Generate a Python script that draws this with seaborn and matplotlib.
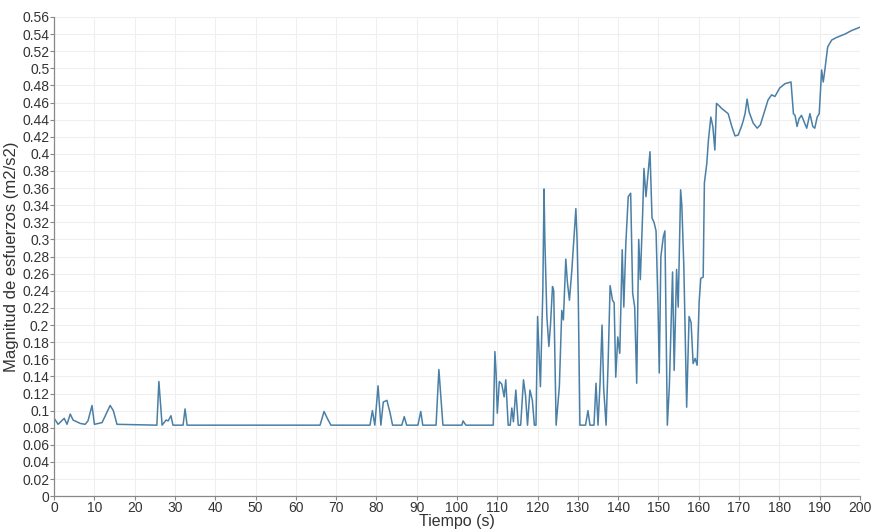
import matplotlib
matplotlib.use("Agg")
import matplotlib.pyplot as plt
import seaborn as sns
import pandas as pd
from matplotlib.ticker import MultipleLocator, FuncFormatter

tiempo = [0, 1, 2.5, 3.2, 4, 4.7, 5.6, 6.5, 7.7, 8.4, 9.4, 10, 11, 11.9, 12.7, 13.9, 14.7, 15.6,
          25.5, 26, 26.8, 27.8, 28.3, 29, 29.5, 32, 32.5, 33, 66, 67, 67.8, 68.7,
          78.4, 79, 79.6, 80.4, 81.1, 81.7, 82.6, 83.4, 84, 86.3, 86.9, 87.5, 90.3, 91, 91.5,
          94.8, 95.5, 96.5, 101.2, 101.5, 102.2, 109,
          109.4, 109.7, 110, 110.5, 111.1, 111.7, 112.1, 112.7, 113.2, 113.6, 114, 114.6, 115.2,
          115.8, 116.5, 117, 117.5, 118.1, 118.7, 119.2, 119.6, 120, 120.7, 121.3, 121.6, 121.8,
          122.3, 122.8, 123.2, 123.7, 124, 124.6, 125.4, 126, 126.4, 127, 127.4, 127.9, 128.5,
          129.5, 129.8, 130.1, 130.5, 131.9, 132.5, 133, 134, 134.5, 135, 135.5, 136, 136.4, 137,
          137.5, 138, 138.6, 139, 139.4, 139.9, 140.4, 141, 141.4, 141.9, 142.5, 143.1, 143.6,
          144.1, 144.6, 145.1, 145.5, 146.1, 146.4, 146.9, 147.9, 148.4, 148.9, 149.4, 149.9,
          150.2, 150.6, 151.2, 151.6, 152.2, 152.7, 153.5, 153.9, 154.5, 154.9, 155.5, 155.8,
          156.3, 157, 157.6, 158.1, 158.6, 159.1, 159.6, 160.1, 160.5, 161.1, 161.4, 162, 162.4,
          163, 163.5, 164, 164.4, 165.1, 165.7, 166.5, 167.3, 168.2, 169, 169.8, 170.6, 171,
          171.5, 172, 172.5, 173.5, 174.5, 175.3, 176.4, 177.2, 178.1, 178.9, 180.1, 181.4,
          182.9, 183.5, 183.9, 184.4, 184.9, 185.5, 186.1, 186.8, 187.6, 188.3, 188.8, 189.4,
          189.9, 190.5, 190.9, 191.3, 192, 193, 194.2, 196.3, 197.9, 200]

esfuerzo = [0.091, 0.084, 0.091, 0.084, 0.096, 0.089, 0.087, 0.085, 0.084, 0.088, 0.106, 0.084,
            0.085, 0.086, 0.094, 0.106, 0.100, 0.084,
            0.083, 0.134, 0.083, 0.089, 0.088, 0.094, 0.083, 0.083, 0.102, 0.083, 0.083, 0.099,
            0.091, 0.083,
            0.083, 0.100, 0.083, 0.129, 0.083, 0.110, 0.112, 0.097, 0.083, 0.083, 0.093, 0.083,
            0.083, 0.099, 0.083,
            0.083, 0.148, 0.083, 0.083, 0.088, 0.083, 0.083,
            0.169, 0.144, 0.097, 0.134, 0.131, 0.116, 0.136, 0.083, 0.083, 0.103, 0.087, 0.124,
            0.083, 0.083, 0.136, 0.118, 0.083, 0.124, 0.112, 0.083, 0.083, 0.210, 0.128, 0.240,
            0.359, 0.300, 0.210, 0.175, 0.200, 0.245, 0.240, 0.083, 0.128, 0.217, 0.206, 0.277,
            0.250, 0.229, 0.264, 0.336, 0.300, 0.233, 0.083, 0.083, 0.100, 0.083, 0.083, 0.132,
            0.083, 0.132, 0.200, 0.126, 0.083, 0.155, 0.246, 0.229, 0.226, 0.139, 0.186, 0.167,
            0.288, 0.221, 0.295, 0.350, 0.354, 0.237, 0.221, 0.132, 0.300, 0.253, 0.334, 0.383,
            0.350, 0.4025, 0.325, 0.320, 0.310, 0.220, 0.144, 0.280, 0.303, 0.310, 0.083, 0.128,
            0.262, 0.147, 0.265, 0.221, 0.358, 0.340, 0.268, 0.104, 0.210, 0.203, 0.155, 0.161,
            0.153, 0.227, 0.2545, 0.256, 0.366, 0.389, 0.416, 0.443, 0.432, 0.4045, 0.459, 0.456,
            0.453, 0.450, 0.447, 0.432, 0.421, 0.422, 0.432, 0.438, 0.447, 0.464, 0.449, 0.436,
            0.430, 0.434, 0.451, 0.463, 0.469, 0.467, 0.477, 0.482, 0.484, 0.447, 0.445, 0.432,
            0.441, 0.445, 0.438, 0.430, 0.447, 0.432, 0.430, 0.443, 0.447, 0.498, 0.484, 0.498,
            0.525, 0.533, 0.536, 0.540, 0.544, 0.548]

x_ticks = list(range(0, 201, 10))

sns.set_style("whitegrid")
plt.rcParams['font.family'] = ['Liberation Sans', 'DejaVu Sans']

df = pd.DataFrame({"Tiempo": tiempo, "Esfuerzo": esfuerzo})

fig = plt.figure(figsize=(8.73, 5.29), dpi=100)
ax = fig.add_axes([0.062, 0.062, 0.923, 0.906])
sns.lineplot(data=df, x="Tiempo", y="Esfuerzo", estimator=None, sort=False,
             color="#4a7fa6", linewidth=1.1, ax=ax)

ax.set_xlim(0, 200)
ax.set_ylim(0, 0.56)
ax.set_xticks(x_ticks)
ax.yaxis.set_major_locator(MultipleLocator(0.02))
ax.yaxis.set_major_formatter(FuncFormatter(lambda v, p: "%g" % round(v, 2)))

ax.grid(True, color="#efefef", linewidth=0.8)
for s in ["top", "right"]:
    ax.spines[s].set_visible(False)
for s in ["left", "bottom"]:
    ax.spines[s].set_color("#888888")
    ax.spines[s].set_linewidth(0.9)
ax.tick_params(axis="both", which="major", length=3, width=0.8, color="#888888",
               labelsize=10, labelcolor="#333333", pad=0.5, direction="out",
               left=True, bottom=True)
ax.set_xlabel("Tiempo (s)", fontsize=11.5, color="#333333", labelpad=-1)
ax.set_ylabel("Magnitud de esfuerzos (m2/s2)", fontsize=12, color="#333333", labelpad=2)

fig.savefig("out.png", dpi=100, facecolor="white")
